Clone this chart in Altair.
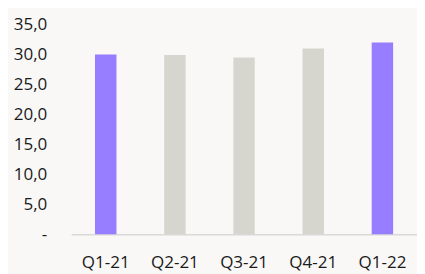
import altair as alt
import pandas as pd

quarters = ["Q1-21", "Q2-21", "Q3-21", "Q4-21", "Q1-22"]
values = [30.0, 29.9, 29.5, 31.0, 32.0]
highlight = [True, False, False, False, True]

df = pd.DataFrame({"q": quarters, "v": values, "h": highlight})

chart = alt.Chart(df).mark_bar().encode(
    x=alt.X("q:N", sort=quarters, title=None,
            scale=alt.Scale(paddingInner=0.69, paddingOuter=0.345),
            axis=alt.Axis(labelAngle=0, tickSize=0, labelPadding=20, labelFontSize=17.5,
                          labelFont="Open Sans", labelColor="#1a1a1a",
                          domainColor="#D9D9D9", domainWidth=1.5)),
    y=alt.Y("v:Q", title=None,
            scale=alt.Scale(domain=[0, 35], nice=False),
            axis=alt.Axis(values=[0, 5, 10, 15, 20, 25, 30, 35], grid=False, domain=False,
                          tickSize=0, labelPadding=25, labelFontSize=17.5,
                          labelFont="Open Sans", labelColor="#1a1a1a",
                          labelExpr="datum.value == 0 ? '-' : replace(format(datum.value, '.1f'), '.', ',')")),
    color=alt.Color("h:N", scale=alt.Scale(domain=[True, False], range=["#977DFF", "#D7D6CE"]), legend=None),
).properties(
    width=356, height=216,
    autosize=alt.AutoSizeParams(type="none"),
    padding={"left": 65, "top": 13, "right": 0, "bottom": 37},
    background="#F9F8F7",
).configure_view(stroke=None)

chart.save("out.html", embed_options={"renderer": "svg", "actions": False})
